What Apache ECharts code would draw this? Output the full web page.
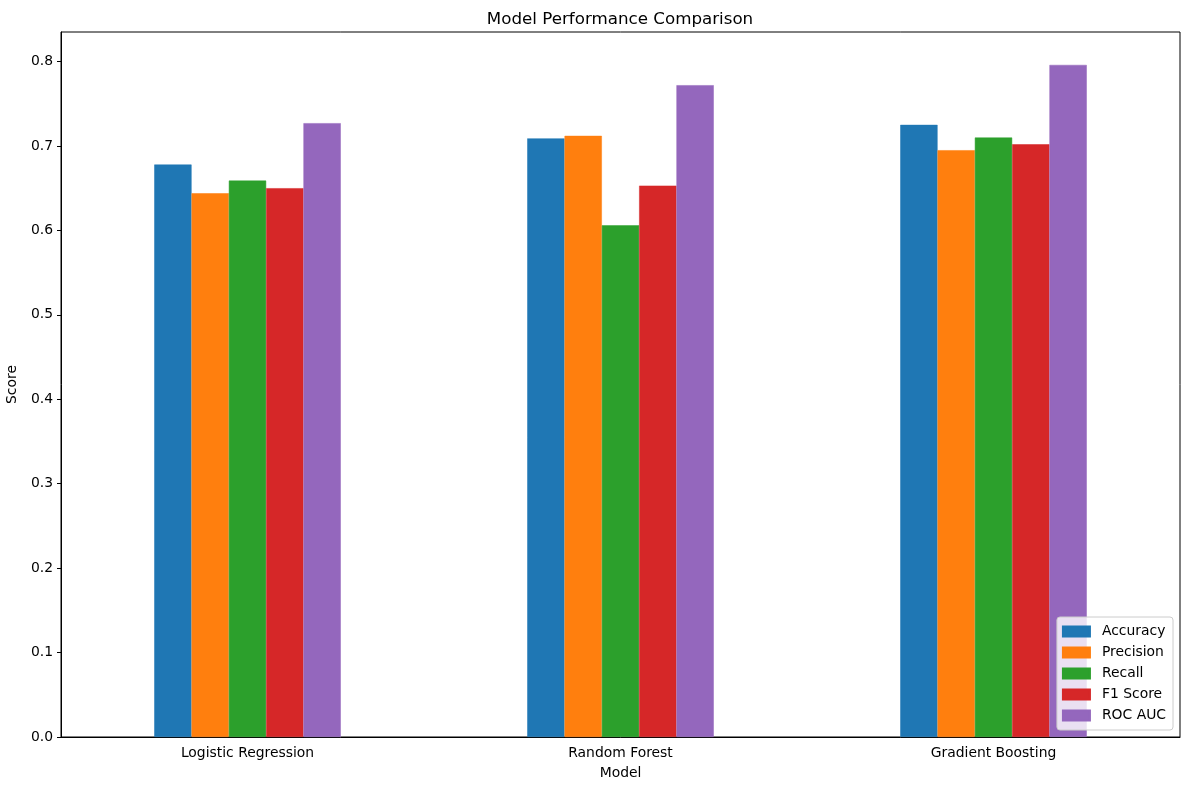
<!DOCTYPE html>
<html>
<head>
<meta charset="utf-8">
<script src="https://cdn.jsdelivr.net/npm/echarts@6/dist/echarts.min.js"></script>
<style>
  html, body { margin: 0; padding: 0; background: #fff; }
  #chart { width: 1189px; height: 790px; }
</style>
</head>
<body>
<div id="chart"></div>
<script>
// 数据
var models = ['Logistic Regression', 'Random Forest', 'Gradient Boosting'];
var metrics = ['Accuracy', 'Precision', 'Recall', 'F1 Score', 'ROC AUC'];
var accuracy = [0.678, 0.709, 0.725];
var precision = [0.644, 0.712, 0.695];
var recall = [0.659, 0.606, 0.710];
var f1Score = [0.650, 0.653, 0.702];
var rocAuc = [0.727, 0.772, 0.796];
var yTicks = [0, 0.1, 0.2, 0.3, 0.4, 0.5, 0.6, 0.7, 0.8];
var colors = ['#1f77b4', '#ff7f0e', '#2ca02c', '#d62728', '#9467bd'];

var seriesValues = [accuracy, precision, recall, f1Score, rocAuc];
var font = 'DejaVu Sans';

var chart = echarts.init(document.getElementById('chart'));

var series = [];
for (var i = 0; i < metrics.length; i++) {
	series.push({
		name: metrics[i],
		type: 'bar',
		data: seriesValues[i],
		barGap: '0%',
		barCategoryGap: '50%',
		itemStyle: { color: colors[i], borderColor: colors[i], borderWidth: 0.5 }
	});
}

var option = {
	animation: false,
	backgroundColor: '#fff',
	color: colors,
	title: {
		text: 'Model Performance Comparison',
		left: 615,
		textAlign: 'center',
		top: 6,
		textStyle: { fontFamily: font, fontSize: 16.7, fontWeight: 'normal', color: '#000' }
	},
	grid: {
		left: 61, right: 9, top: 32, bottom: 53,
		outerBoundsMode: 'none',
		containLabel: false,
		show: true, borderColor: '#000', borderWidth: 1, backgroundColor: 'transparent'
	},
	legend: {
		data: metrics,
		orient: 'vertical',
		right: 16,
		bottom: 60,
		icon: 'rect',
		itemWidth: 27,
		itemHeight: 10,
		itemGap: 6,
		padding: [7, 7, 7, 5],
		backgroundColor: 'rgba(255,255,255,0.8)',
		borderColor: '#ccc',
		borderWidth: 1,
		borderRadius: 3,
		textStyle: { fontFamily: font, fontSize: 13.9, color: '#000', padding: [0, 0, 0, 7], lineHeight: 15 }
	},
	xAxis: {
		type: 'category',
		data: models,
		name: 'Model',
		nameLocation: 'middle',
		nameGap: 29,
		nameTextStyle: { fontFamily: font, fontSize: 13.9, color: '#000' },
		axisLine: { lineStyle: { color: '#000', width: 1 } },
		axisTick: { alignWithLabel: true, length: 4, lineStyle: { color: '#000' } },
		axisLabel: { fontFamily: font, fontSize: 13.9, color: '#000', margin: 9 },
		splitLine: { show: false }
	},
	yAxis: {
		type: 'value',
		min: 0,
		max: 0.835,
		name: 'Score',
		nameLocation: 'middle',
		nameGap: 42,
		nameTextStyle: { fontFamily: font, fontSize: 13.9, color: '#000' },
		axisLine: { show: true, lineStyle: { color: '#000', width: 1 } },
		axisTick: { show: true, length: 4, customValues: yTicks, lineStyle: { color: '#000' } },
		axisLabel: {
			fontFamily: font, fontSize: 13.9, color: '#000', margin: 8,
			customValues: yTicks,
			formatter: function (v) { return v.toFixed(1); }
		},
		splitLine: { show: false }
	},
	series: series
};
chart.setOption(option);
</script>
</body>
</html>
